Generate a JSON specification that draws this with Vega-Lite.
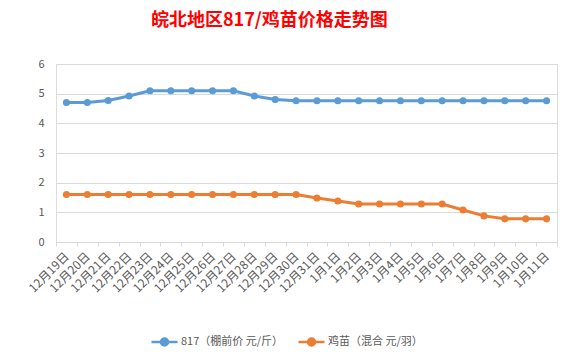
{
  "$schema": "https://vega.github.io/schema/vega-lite/v6.json",
  "width": 501,
  "height": 178,
  "autosize": {"type": "none"},
  "padding": {"left": 56, "top": 64, "right": 19, "bottom": 122},
  "background": "white",
  "title": {
    "text": "皖北地区817/鸡苗价格走势图",
    "anchor": "start",
    "frame": "group",
    "dx": 95,
    "offset": 28,
    "color": "#FF0000",
    "font": "Noto Sans CJK SC",
    "fontSize": 18,
    "fontWeight": "bold"
  },
  "data": {
    "values": [
      {"date": "12月19日", "series": "817（棚前价 元/斤）", "value": 4.7},
      {"date": "12月20日", "series": "817（棚前价 元/斤）", "value": 4.7},
      {"date": "12月21日", "series": "817（棚前价 元/斤）", "value": 4.77},
      {"date": "12月22日", "series": "817（棚前价 元/斤）", "value": 4.92},
      {"date": "12月23日", "series": "817（棚前价 元/斤）", "value": 5.1},
      {"date": "12月24日", "series": "817（棚前价 元/斤）", "value": 5.1},
      {"date": "12月25日", "series": "817（棚前价 元/斤）", "value": 5.1},
      {"date": "12月26日", "series": "817（棚前价 元/斤）", "value": 5.1},
      {"date": "12月27日", "series": "817（棚前价 元/斤）", "value": 5.1},
      {"date": "12月28日", "series": "817（棚前价 元/斤）", "value": 4.92},
      {"date": "12月29日", "series": "817（棚前价 元/斤）", "value": 4.8},
      {"date": "12月30日", "series": "817（棚前价 元/斤）", "value": 4.76},
      {"date": "12月31日", "series": "817（棚前价 元/斤）", "value": 4.76},
      {"date": "1月1日", "series": "817（棚前价 元/斤）", "value": 4.76},
      {"date": "1月2日", "series": "817（棚前价 元/斤）", "value": 4.76},
      {"date": "1月3日", "series": "817（棚前价 元/斤）", "value": 4.76},
      {"date": "1月4日", "series": "817（棚前价 元/斤）", "value": 4.76},
      {"date": "1月5日", "series": "817（棚前价 元/斤）", "value": 4.76},
      {"date": "1月6日", "series": "817（棚前价 元/斤）", "value": 4.76},
      {"date": "1月7日", "series": "817（棚前价 元/斤）", "value": 4.76},
      {"date": "1月8日", "series": "817（棚前价 元/斤）", "value": 4.76},
      {"date": "1月9日", "series": "817（棚前价 元/斤）", "value": 4.76},
      {"date": "1月10日", "series": "817（棚前价 元/斤）", "value": 4.76},
      {"date": "1月11日", "series": "817（棚前价 元/斤）", "value": 4.76},
      {"date": "12月19日", "series": "鸡苗（混合 元/羽）", "value": 1.6},
      {"date": "12月20日", "series": "鸡苗（混合 元/羽）", "value": 1.6},
      {"date": "12月21日", "series": "鸡苗（混合 元/羽）", "value": 1.6},
      {"date": "12月22日", "series": "鸡苗（混合 元/羽）", "value": 1.6},
      {"date": "12月23日", "series": "鸡苗（混合 元/羽）", "value": 1.6},
      {"date": "12月24日", "series": "鸡苗（混合 元/羽）", "value": 1.6},
      {"date": "12月25日", "series": "鸡苗（混合 元/羽）", "value": 1.6},
      {"date": "12月26日", "series": "鸡苗（混合 元/羽）", "value": 1.6},
      {"date": "12月27日", "series": "鸡苗（混合 元/羽）", "value": 1.6},
      {"date": "12月28日", "series": "鸡苗（混合 元/羽）", "value": 1.6},
      {"date": "12月29日", "series": "鸡苗（混合 元/羽）", "value": 1.6},
      {"date": "12月30日", "series": "鸡苗（混合 元/羽）", "value": 1.6},
      {"date": "12月31日", "series": "鸡苗（混合 元/羽）", "value": 1.48},
      {"date": "1月1日", "series": "鸡苗（混合 元/羽）", "value": 1.38},
      {"date": "1月2日", "series": "鸡苗（混合 元/羽）", "value": 1.28},
      {"date": "1月3日", "series": "鸡苗（混合 元/羽）", "value": 1.28},
      {"date": "1月4日", "series": "鸡苗（混合 元/羽）", "value": 1.28},
      {"date": "1月5日", "series": "鸡苗（混合 元/羽）", "value": 1.28},
      {"date": "1月6日", "series": "鸡苗（混合 元/羽）", "value": 1.28},
      {"date": "1月7日", "series": "鸡苗（混合 元/羽）", "value": 1.08},
      {"date": "1月8日", "series": "鸡苗（混合 元/羽）", "value": 0.88},
      {"date": "1月9日", "series": "鸡苗（混合 元/羽）", "value": 0.78},
      {"date": "1月10日", "series": "鸡苗（混合 元/羽）", "value": 0.78},
      {"date": "1月11日", "series": "鸡苗（混合 元/羽）", "value": 0.78}
    ]
  },
  "mark": {"type": "line", "strokeWidth": 3, "point": {"filled": true, "size": 50}},
  "encoding": {
    "x": {
      "field": "date",
      "type": "nominal",
      "sort": null,
      "scale": {"type": "band", "paddingInner": 0, "paddingOuter": 0},
      "axis": {
        "title": null,
        "labelAngle": -45,
        "labelAlign": "right",
        "labelBaseline": "middle",
        "labelFont": "Noto Sans CJK SC",
        "labelFontSize": 12,
        "labelColor": "#595959",
        "labelPadding": 8,
        "tickBand": "extent",
        "tickColor": "#d9d9d9",
        "tickSize": 4,
        "domainColor": "#d9d9d9",
        "grid": false
      }
    },
    "y": {
      "field": "value",
      "type": "quantitative",
      "scale": {"domain": [0, 6]},
      "axis": {
        "title": null,
        "values": [0, 1, 2, 3, 4, 5, 6],
        "domain": false,
        "ticks": false,
        "labelPadding": 12,
        "labelFont": "Noto Sans CJK SC",
        "labelFontSize": 11,
        "labelColor": "#595959",
        "gridColor": "#d9d9d9"
      }
    },
    "color": {
      "field": "series",
      "type": "nominal",
      "scale": {"domain": ["817（棚前价 元/斤）", "鸡苗（混合 元/羽）"], "range": ["#5B9BD5", "#ED7D31"]},
      "legend": {
        "title": null,
        "orient": "none",
        "direction": "horizontal",
        "legendX": 94,
        "legendY": 263,
        "symbolType": "M-1,0L1,0M-0.27,0A0.27,0.27,0,1,1,0.27,0A0.27,0.27,0,1,1,-0.27,0Z",
        "symbolSize": 676,
        "symbolStrokeWidth": 2.5,
        "labelFont": "Noto Sans CJK SC",
        "labelFontSize": 11,
        "labelColor": "#595959",
        "labelOffset": 2,
        "columnPadding": 9,
        "encode": {
          "symbols": {
            "update": {
              "fill": {"scale": "color", "field": "value"},
              "stroke": {"scale": "color", "field": "value"}
            }
          }
        }
      }
    }
  }
}
